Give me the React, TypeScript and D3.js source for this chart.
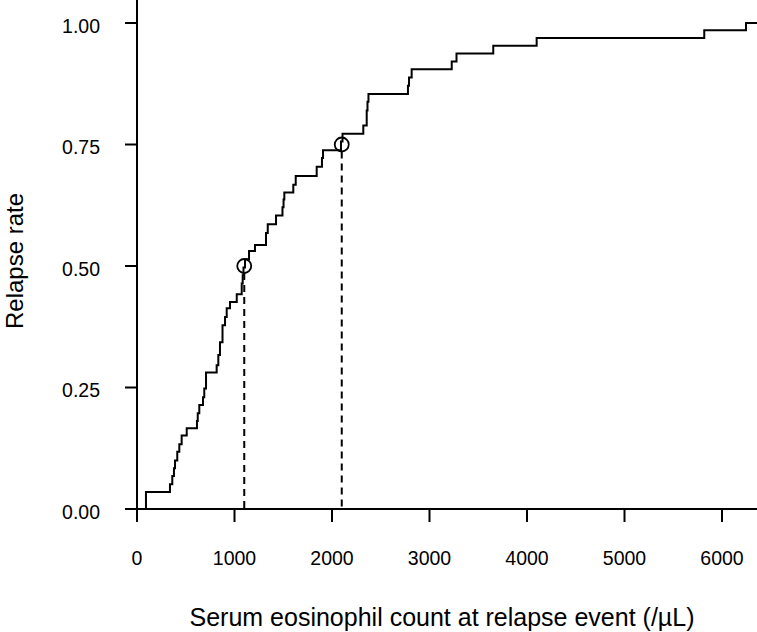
import React from 'react';
import * as d3 from 'd3';

// Step positions of the empirical cumulative relapse curve (eosinophil count /µL)
const eosCounts = [92, 338, 362, 379, 390, 413, 434, 458, 510, 615, 623, 639, 677, 690, 708, 817, 834, 851, 877, 903, 920, 954, 1023, 1074, 1084, 1092, 1108, 1149, 1210, 1323, 1341, 1426, 1492, 1503, 1511, 1603, 1628, 1843, 1897, 1908, 2092, 2108, 2321, 2356, 2364, 2374, 2779, 2790, 2817, 3228, 3277, 3654, 4099, 5818, 6246];
// Cumulative relapse rate after each step
const relapseRates = [0.035, 0.051, 0.068, 0.084, 0.100, 0.118, 0.133, 0.151, 0.166, 0.181, 0.197, 0.214, 0.230, 0.248, 0.281, 0.296, 0.317, 0.343, 0.378, 0.395, 0.413, 0.426, 0.442, 0.464, 0.481, 0.497, 0.514, 0.531, 0.543, 0.568, 0.586, 0.604, 0.621, 0.637, 0.651, 0.667, 0.685, 0.704, 0.722, 0.738, 0.756, 0.772, 0.789, 0.820, 0.838, 0.854, 0.871, 0.888, 0.905, 0.921, 0.937, 0.953, 0.969, 0.985, 1.0];

// Marked quantiles
const markerCounts = [1100, 2100];
const markerRates = [0.5, 0.75];

const xTicks = [0, 1000, 2000, 3000, 4000, 5000, 6000];
const yTicks = [0, 0.25, 0.5, 0.75, 1.0];

const xTitle = 'Serum eosinophil count at relapse event (/µL)';
const yTitle = 'Relapse rate';

const W = 757;
const H = 632;
const FONT = '"Liberation Sans", Arial, Helvetica, sans-serif';
const TICK_FS = 19.5;
const TITLE_FS = 25;

export default function App() {
  const x = d3.scaleLinear().domain([0, 6000]).range([137, 722]);
  const y = d3.scaleLinear().domain([0, 1]).range([509, 23]);

  const pts: [number, number][] = [[0, 0]];
  eosCounts.forEach((c, i) => pts.push([c, relapseRates[i]]));
  pts.push([6500, relapseRates[relapseRates.length - 1]]);

  const line = d3
    .line<[number, number]>()
    .x((d) => x(d[0]))
    .y((d) => y(d[1]))
    .curve(d3.curveStepAfter);

  const x0 = x(0);
  const y0 = y(0);

  return (
    <svg
      width={W}
      height={H}
      style={{ position: 'absolute', left: 0, top: 0, background: '#fff' }}
      fontFamily={FONT}
    >
      <rect width={W} height={H} fill="#fff" />
      {/* axes */}
      <line x1={x0} x2={x0} y1={0} y2={y0 + 13} stroke="#000" strokeWidth={2} />
      <line x1={x0 - 12} x2={W} y1={y0} y2={y0} stroke="#000" strokeWidth={2} />
      {yTicks.map((t) => (
        <g key={'y' + t}>
          <line x1={x0 - 12} x2={x0} y1={y(t)} y2={y(t)} stroke="#000" strokeWidth={2} />
          <text x={100} y={y(t) + 9.5} textAnchor="end" fontSize={TICK_FS}>
            {t.toFixed(2)}
          </text>
        </g>
      ))}
      {xTicks.map((t) => (
        <g key={'x' + t}>
          <line x1={x(t)} x2={x(t)} y1={y0} y2={y0 + 13} stroke="#000" strokeWidth={2} />
          <text x={x(t)} y={565} textAnchor="middle" fontSize={TICK_FS}>
            {t}
          </text>
        </g>
      ))}
      {/* dashed reference lines and markers */}
      {markerCounts.map((c, i) => (
        <g key={'m' + c}>
          <line
            x1={x(c)}
            x2={x(c)}
            y1={y(markerRates[i]) + 7}
            y2={y0}
            stroke="#000"
            strokeWidth={2}
            strokeDasharray="7,5"
          />
          <circle cx={x(c)} cy={y(markerRates[i])} r={7} fill="none" stroke="#000" strokeWidth={1.8} />
        </g>
      ))}
      {/* step curve */}
      <path d={line(pts) || ''} fill="none" stroke="#000" strokeWidth={2} />
      {/* titles */}
      <text x={442} y={626} textAnchor="middle" fontSize={TITLE_FS}>
        {xTitle}
      </text>
      <text
        transform={`translate(23,261) rotate(-90)`}
        textAnchor="middle"
        fontSize={24}
      >
        {yTitle}
      </text>
    </svg>
  );
}
